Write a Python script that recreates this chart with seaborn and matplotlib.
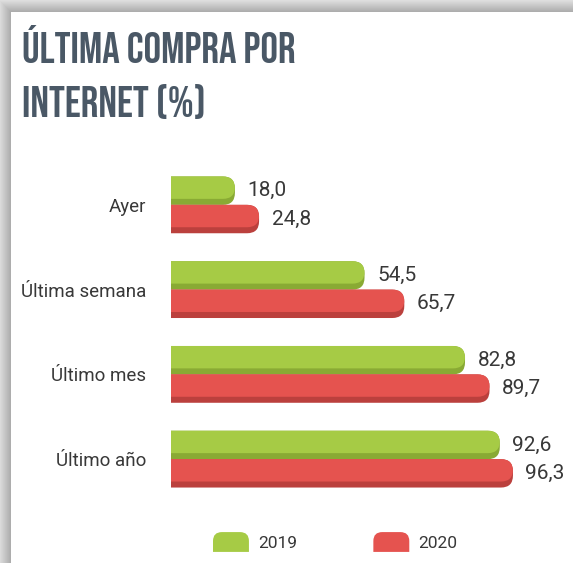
import numpy as np
import pandas as pd
import seaborn as sns
import matplotlib.pyplot as plt
from matplotlib.patches import FancyBboxPatch, PathPatch, Patch
from matplotlib.path import Path
from matplotlib.legend_handler import HandlerPatch

categories = ["Ayer", "Última semana", "Último mes", "Último año"]
years = ["2019", "2020"]
values_2019 = [18.0, 54.5, 82.8, 92.6]
values_2020 = [24.8, 65.7, 89.7, 96.3]

colors = {"2019": "#a6cb45", "2020": "#e5534f"}
dark = {"2019": "#89aa34", "2020": "#bb403d"}
text_color = "#383838"

df = pd.DataFrame({
    "categoria": categories * 2,
    "anio": [years[0]] * len(categories) + [years[1]] * len(categories),
    "valor": values_2019 + values_2020,
})

sns.set_theme(style="white")
plt.rcParams["font.family"] = ["Roboto", "DejaVu Sans"]

W, H = 573, 563
fig = plt.figure(figsize=(W / 100, H / 100), dpi=100)

# card shadow on top / left edge
bg = fig.add_axes([0, 0, 1, 1], zorder=-10)
yy, xx = np.mgrid[0:H, 0:W]
d = np.maximum(np.clip(11 - xx, 0, None), np.clip(12 - yy, 0, None))
shade = np.where(d > 0, 168 + 4.5 * d, 255) / 255
bg.imshow(shade, cmap="gray", vmin=0, vmax=1, aspect="auto", interpolation="bilinear")
bg.axis("off")

xmax = 110
ax_w = 390.6
top_px, bot_px = 154, 510
ax = fig.add_axes([171 / W, (H - bot_px) / H, ax_w / W, (bot_px - top_px) / H])
ax.patch.set_alpha(0)

sns.barplot(data=df, y="categoria", x="valor", hue="anio", palette=colors,
            width=0.67, orient="h", ax=ax, legend=False, saturation=1)
ax.set_xlim(0, xmax)
ax.set_ylim(3.6, -0.6)

sx = ax_w / xmax                       # px per x unit
sy = (bot_px - top_px) / 4.2           # px per y unit
aspect = sx / sy
r = 12 / sx
strip = 6 / sy

for cont, yr in zip(ax.containers, years):
    for bar in cont:
        bar.set_visible(False)
        y0, h, w = bar.get_y(), bar.get_height(), bar.get_width()
        for fc, hh in ((dark[yr], h), (colors[yr], h - strip)):
            ax.add_patch(FancyBboxPatch(
                (-2 * r, y0), w + 2 * r, hh,
                boxstyle=f"round,pad=0,rounding_size={r}",
                mutation_aspect=aspect, fc=fc, ec="none"))
    ax.bar_label(cont, labels=[f"{v:.1f}".replace(".", ",") for v in cont.datavalues],
                 padding=9, fontsize=15, color=text_color)

ax.set_xlabel("")
ax.set_ylabel("")
ax.set_xticks([])
ax.tick_params(axis="y", length=0, pad=18, labelsize=13.5, labelcolor=text_color)
sns.despine(ax=ax, left=True, bottom=True)


def rounded_top(legend, orig_handle, xdescent, ydescent, width, height, fontsize):
    rr = height * 0.45
    x0, y0 = -xdescent, -ydescent
    x1, y1 = x0 + width, y0 + height
    verts = [(x0, y0), (x0, y1 - rr), (x0, y1), (x0 + rr, y1), (x1 - rr, y1),
             (x1, y1), (x1, y1 - rr), (x1, y0), (x0, y0)]
    codes = [Path.MOVETO, Path.LINETO, Path.CURVE3, Path.CURVE3, Path.LINETO,
             Path.CURVE3, Path.CURVE3, Path.LINETO, Path.CLOSEPOLY]
    return PathPatch(Path(verts, codes))


handles = [Patch(facecolor=colors[y], edgecolor="none", label=y) for y in years]
leg = fig.legend(handles=handles, loc="center left", bbox_to_anchor=(213 / W, 1 - 542 / H),
                 ncol=2, frameon=False, fontsize=12.5, handlelength=2.07, handleheight=1.38,
                 handletextpad=0.52, columnspacing=4.4, borderpad=0, borderaxespad=0,
                 handler_map={Patch: HandlerPatch(patch_func=rounded_top)})
for t in leg.get_texts():
    t.set_color(text_color)

title_font = ["Bebas Neue", "DejaVu Sans"]
fig.text(22 / W, 1 - 63 / H, "ÚLTIMA COMPRA POR", fontsize=31.5,
         color="#4a5866", family=title_font, va="baseline")
fig.text(22 / W, 1 - 117 / H, "INTERNET (%)", fontsize=31.5,
         color="#4a5866", family=title_font, va="baseline")

fig.savefig("out.png", dpi=100)
